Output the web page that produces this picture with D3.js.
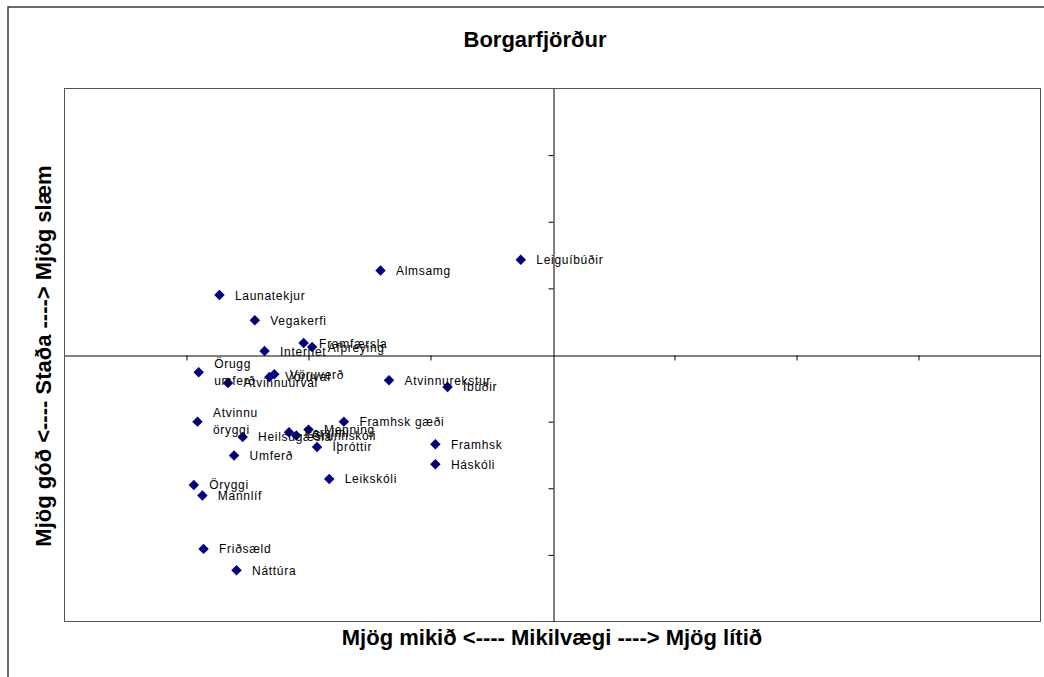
<!DOCTYPE html>
<html lang="is">
<head>
<meta charset="utf-8">
<title>Borgarfjörður</title>
<script src="https://d3js.org/d3.v7.min.js"></script>
<style>
  body { margin: 0; background: #fff; }
  text { font-family: "Liberation Sans", Arial, sans-serif; }
</style>
</head>
<body>
<script>
// Chart values (mikilvægi = x, staða = y)
var names = ["Leiguíbúðir", "Almsamg", "Launatekjur", "Vegakerfi", "Framfærsla", "Afþreying",
  "Internet", "Örugg\numferð", "Atvinnuúrval", "Vöruval", "Vöruverð", "Atvinnurekstur", "Íbúðir",
  "Atvinnu\nöryggi", "Heilsugæsla", "Farsími", "Grunnskóli", "Menning", "Framhsk gæði", "Íþróttir",
  "Umferð", "Framhsk", "Háskóli", "Leikskóli", "Öryggi", "Mannlíf", "Friðsæld", "Náttúra"];
var mikilvaegi = [-0.26, -1.41, -2.73, -2.44, -2.04, -1.97,
  -2.36, -2.90, -2.66, -2.32, -2.28, -1.34, -0.86,
  -2.91, -2.54, -2.16, -2.10, -2.00, -1.71, -1.93,
  -2.61, -0.96, -0.96, -1.83, -2.94, -2.87, -2.86, -2.59];
var stada = [1.43, 1.27, 0.90, 0.52, 0.18, 0.12,
  0.06, -0.26, -0.42, -0.33, -0.29, -0.38, -0.48,
  -1.00, -1.23, -1.16, -1.21, -1.12, -1.00, -1.38,
  -1.51, -1.34, -1.64, -1.86, -1.95, -2.11, -2.91, -3.23];
var tickVals = [-3, -2, -1, 1, 2, 3];

var w = 1044, h = 677;
var plotL = 64.5, plotR = 1040.5, plotT = 88.5, plotB = 621.5;

var svg = d3.select("body").append("svg")
  .attr("width", w)
  .attr("height", h);

// outer chart border (runs off the page to the right and bottom)
svg.append("rect")
  .attr("x", 8).attr("y", 7).attr("width", 1100).attr("height", 720)
  .attr("fill", "#fff").attr("stroke", "#3a3a3a").attr("stroke-width", 1.5);

var x = d3.scaleLinear().domain([-4, 4]).range([plotL, plotR]);
var y = d3.scaleLinear().domain([-4, 4]).range([plotB, plotT]);

// plot area
svg.append("rect")
  .attr("x", plotL).attr("y", plotT)
  .attr("width", plotR - plotL).attr("height", plotB - plotT)
  .attr("fill", "#fff").attr("stroke", "#555").attr("stroke-width", 1);

// axes crossing at 0
svg.append("g")
  .attr("transform", "translate(0," + (Math.round(y(0)) + 0.5) + ")")
  .call(d3.axisBottom(x).tickValues(tickVals).tickSize(5).tickSizeOuter(0).tickFormat(""))
  .call(function(g) { g.selectAll("path,line").attr("stroke", "#000"); });

svg.append("g")
  .attr("transform", "translate(" + (Math.round(x(0)) + 0.5) + ",0)")
  .call(d3.axisLeft(y).tickValues(tickVals).tickSize(5).tickSizeOuter(0).tickFormat(""))
  .call(function(g) { g.selectAll("path,line").attr("stroke", "#000"); });

var pts = names.map(function(n, i) { return {name: n, x: mikilvaegi[i], y: stada[i]}; });

// markers
svg.append("g").selectAll("path")
  .data(pts)
  .enter()
  .append("path")
  .attr("d", d3.symbol(d3.symbolSquare, 55))
  .attr("transform", function(d) { return "translate(" + x(d.x) + "," + y(d.y) + ") rotate(45)"; })
  .attr("fill", "#000080");

// labels
var lab = svg.append("g").selectAll("text")
  .data(pts)
  .enter()
  .append("text")
  .attr("x", function(d) { return x(d.x) + 15.5; })
  .attr("y", function(d) { return y(d.y); })
  .attr("font-size", 12)
  .attr("letter-spacing", 0.7)
  .attr("fill", "#000");

lab.each(function(d) {
  var lines = d.name.split("\n");
  var t = d3.select(this);
  lines.forEach(function(s, k) {
    t.append("tspan")
      .attr("x", x(d.x) + 15.5)
      .attr("dy", k === 0 ? (lines.length > 1 ? -4.5 : 4.5) : 17)
      .text(s);
  });
});

// titles
svg.append("text")
  .attr("x", 535).attr("y", 47)
  .attr("text-anchor", "middle")
  .attr("font-size", 22).attr("font-weight", "bold")
  .text("Borgarfjörður");

svg.append("text")
  .attr("x", 552).attr("y", 645)
  .attr("text-anchor", "middle")
  .attr("font-size", 22).attr("font-weight", "bold")
  .text("Mjög mikið <---- Mikilvægi ----> Mjög lítið");

svg.append("text")
  .attr("transform", "translate(51,356) rotate(-90)")
  .attr("text-anchor", "middle")
  .attr("font-size", 22).attr("font-weight", "bold")
  .text("Mjög góð <---- Staða ----> Mjög slæm");
</script>
</body>
</html>
